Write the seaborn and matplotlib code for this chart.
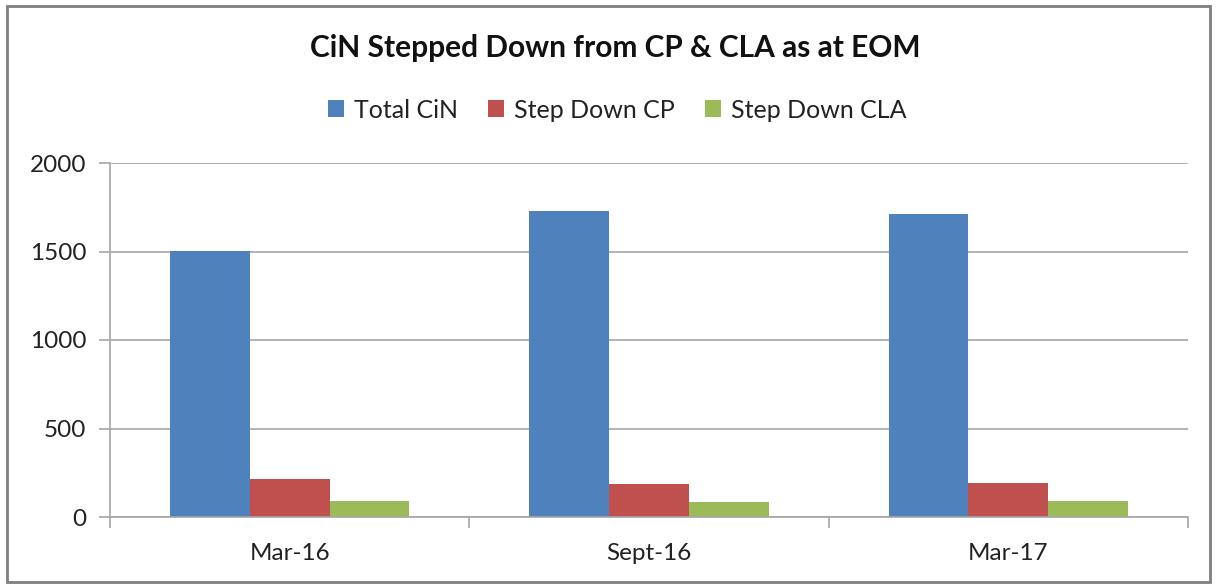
import matplotlib
matplotlib.use("Agg")
import matplotlib.pyplot as plt
import seaborn as sns
import pandas as pd
from matplotlib.patches import Rectangle

categories = ["Mar-16", "Sept-16", "Mar-17"]
series_names = ["Total CiN", "Step Down CP", "Step Down CLA"]
total_cin = [1503, 1729, 1712]
step_down_cp = [213, 185, 192]
step_down_cla = [89, 83, 89]
yticks = [0, 500, 1000, 1500, 2000]
colors = ["#4F81BD", "#C0504D", "#9BBB59"]

rows = []
for name, vals in zip(series_names, [total_cin, step_down_cp, step_down_cla]):
    for c, v in zip(categories, vals):
        rows.append({"Category": c, "Series": name, "Value": v})
df = pd.DataFrame(rows)

sns.set_theme(style="white")
plt.rcParams['font.family'] = ['Lato', 'DejaVu Sans']

fig = plt.figure(figsize=(12.16, 5.88), dpi=100)
ax = fig.add_axes([110/1216, 1-517/588, (1188-110)/1216, (517-163)/588])

sns.barplot(data=df, x="Category", y="Value", hue="Series", order=categories,
            hue_order=series_names, palette=colors, width=2/3, gap=0,
            saturation=1, ax=ax, legend=True, linewidth=0)

ax.set_xlim(-0.5, 2.5)
ax.set_ylim(0, 2000)
ax.set_yticks(yticks)
ax.set_yticklabels([str(t) for t in yticks], fontsize=17.5, color="#222222")
ax.yaxis.grid(True, color="#A6A6A6", linewidth=1.2)
ax.set_axisbelow(True)
ax.set_xlabel("")
ax.set_ylabel("")
ax.tick_params(axis="x", labelsize=17.5, colors="#222222", length=0, pad=19)
ax.tick_params(axis="y", length=8, width=1.2, color="#A6A6A6", left=True, pad=9)
for s in ["top", "right"]:
    ax.spines[s].set_visible(False)
for s in ["left", "bottom"]:
    ax.spines[s].set_color("#A6A6A6")
    ax.spines[s].set_linewidth(1.2)

# category boundary tick marks on the x axis
ax.set_xticks([-0.5, 0.5, 1.5, 2.5], minor=True)
ax.tick_params(axis="x", which="minor", length=8, width=1.2, color="#A6A6A6", bottom=True)

handles, labels = ax.get_legend_handles_labels()
ax.get_legend().remove()
leg = fig.legend(handles, labels, loc="center", bbox_to_anchor=(617/1216, 1-110/588),
                 ncol=3, frameon=False, fontsize=18, handlelength=0.65,
                 handleheight=0.65, columnspacing=1.2, handletextpad=0.4)
for t in leg.get_texts():
    t.set_color("#222222")

fig.text(615/1216, 1-48/588, "CiN Stepped Down from CP & CLA as at EOM", ha="center",
         va="center", fontsize=21.5, fontweight="bold", color="#111111")

fig.patches.append(Rectangle((7/1216, 1-582/588), (1210-7)/1216, (582-6)/588,
                             transform=fig.transFigure, fill=False,
                             edgecolor="#7F7F7F", linewidth=2))

fig.savefig("out.png", dpi=100)
